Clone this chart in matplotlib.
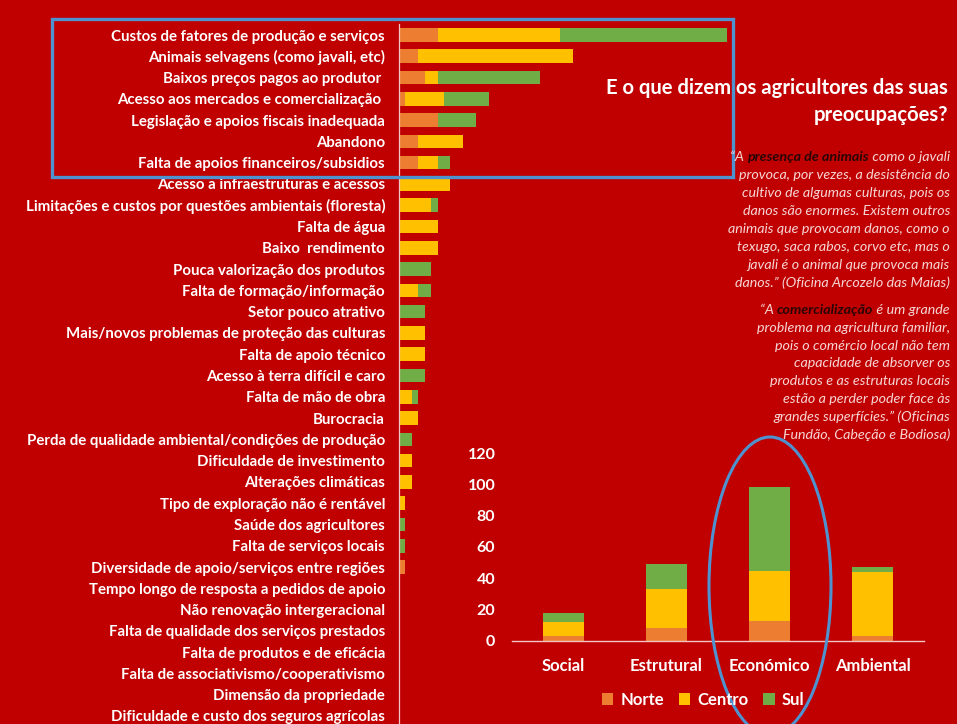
import matplotlib
matplotlib.use("Agg")
import matplotlib.pyplot as plt
import matplotlib.patches as mpatches
import numpy as np

# ---------------- data ----------------
problems = [
    "Custos de fatores de produção e serviços",
    "Animais selvagens (como javali, etc)",
    "Baixos preços pagos ao produtor ",
    "Acesso aos mercados e comercialização ",
    "Legislação e apoios fiscais inadequada",
    "Abandono",
    "Falta de apoios financeiros/subsidios",
    "Acesso a infraestruturas e acessos",
    "Limitações e custos por questões ambientais (floresta)",
    "Falta de água",
    "Baixo  rendimento",
    "Pouca valorização dos produtos",
    "Falta de formação/informação",
    "Setor pouco atrativo",
    "Mais/novos problemas de proteção das culturas",
    "Falta de apoio técnico",
    "Acesso à terra difícil e caro",
    "Falta de mão de obra",
    "Burocracia",
    "Perda de qualidade ambiental/condições de produção",
    "Dificuldade de investimento",
    "Alterações climáticas",
    "Tipo de exploração não é rentável",
    "Saúde dos agricultores",
    "Falta de serviços locais",
    "Diversidade de apoio/serviços entre regiões",
    "Tempo longo de resposta a pedidos de apoio",
    "Não renovação intergeracional",
    "Falta de qualidade dos serviços prestados",
    "Falta de produtos e de eficácia",
    "Falta de associativismo/cooperativismo",
    "Dimensão da propriedade",
    "Dificuldade e custo dos seguros agrícolas",
]
norte = [6, 3, 4, 1, 6, 3, 3, 0, 0, 0, 0, 0, 0, 0, 0, 0, 0, 0, 0, 0, 0, 0, 0, 0, 0, 1, 0, 0, 0, 0, 0, 0, 0]
centro = [19, 24, 2, 6, 0, 7, 3, 8, 5, 6, 6, 0, 3, 0, 4, 4, 0, 2, 3, 0, 2, 2, 1, 0, 0, 0, 0, 0, 0, 0, 0, 0, 0]
sul = [26, 0, 16, 7, 6, 0, 2, 0, 1, 0, 0, 5, 2, 4, 0, 0, 4, 1, 0, 2, 0, 0, 0, 1, 1, 0, 0, 0, 0, 0, 0, 0, 0]

dimensions = ["Social", "Estrutural", "Económico", "Ambiental"]
dim_norte = [3, 8, 13, 3]
dim_centro = [9, 25, 32, 41]
dim_sul = [6, 16, 53, 3]
dim_ticks = [0, 20, 40, 60, 80, 100, 120]
series_names = ["Norte", "Centro", "Sul"]

title_lines = ["E o que dizem os agricultores das suas", "preocupações?"]
quote1 = [("“A ", "presença de animais", " como o javali"),
          "provoca, por vezes, a desistência do",
          "cultivo de algumas culturas, pois os",
          "danos são enormes. Existem outros",
          "animais que provocam danos, como o",
          "texugo, saca rabos, corvo etc, mas o",
          "javali é o animal que provoca mais",
          "danos.” (Oficina Arcozelo das Maias)"]
quote2 = [("“A ", "comercialização", " é um grande"),
          "problema na agricultura familiar,",
          "pois o comércio local não tem",
          "capacidade de absorver os",
          "produtos e as estruturas locais",
          "estão a perder poder face às",
          "grandes superfícies.” (Oficinas",
          "Fundão, Cabeção e Bodiosa)"]

# ---------------- style ----------------
BG = "#C00000"
C_N, C_C, C_S = "#ED7D31", "#FFC000", "#70AD47"
BLUE = "#4E92CF"
QUOTE = "#F6D5D5"
FONT = ["Lato", "DejaVu Sans"]
plt.rcParams["font.family"] = FONT

W, H = 957, 724
fig = plt.figure(figsize=(W / 100, H / 100), dpi=100, facecolor=BG)

def fx(px):
    return px / W

def fy(py):
    return 1 - py / H

# ---------------- main horizontal bar chart ----------------
n = len(problems)
row = 21.28
unit = 6.43
xmax = 55
ax = fig.add_axes([fx(399), fy(35 - row / 2 + n * row), xmax * unit / W, n * row / H])
ax.set_facecolor("none")
y = np.arange(n)
nn = np.array(norte)
cc = np.array(centro)
ss = np.array(sul)
bh = 0.64
ax.barh(y, nn, height=bh, color=C_N)
ax.barh(y, cc, left=nn, height=bh, color=C_C)
ax.barh(y, ss, left=nn + cc, height=bh, color=C_S)
ax.set_xlim(0, xmax)
ax.set_ylim(n - 0.5, -0.5)
ax.set_yticks(y)
ax.set_yticklabels(problems, fontsize=10.8, fontweight="bold", color="white")
ax.tick_params(axis="y", length=0, pad=10)
ax.set_xticks([])
for s in ["top", "right", "bottom"]:
    ax.spines[s].set_visible(False)
ax.spines["left"].set_color("#F2C4C4")
ax.spines["left"].set_linewidth(0.9)

# ---------------- small stacked column chart ----------------
ax2 = fig.add_axes([fx(512), fy(641), 412 / W, 188 / H])
ax2.set_facecolor("none")
x = np.arange(len(dimensions))
dn = np.array(dim_norte)
dc = np.array(dim_centro)
ds = np.array(dim_sul)
bw = 0.4
ax2.bar(x, dn, width=bw, color=C_N, label=series_names[0])
ax2.bar(x, dc, bottom=dn, width=bw, color=C_C, label=series_names[1])
ax2.bar(x, ds, bottom=dn + dc, width=bw, color=C_S, label=series_names[2])
ax2.set_xlim(-0.5, len(dimensions) - 0.5)
ax2.set_ylim(0, 120)
ax2.set_yticks(dim_ticks)
ax2.set_yticklabels([str(t) for t in dim_ticks], fontsize=11.5, fontweight="bold", color="white")
ax2.set_xticks(x)
ax2.set_xticklabels(dimensions, fontsize=12, fontweight="bold", color="white")
ax2.tick_params(axis="y", length=0, pad=12)
ax2.tick_params(axis="x", length=0, pad=12)
for s in ["top", "right", "left"]:
    ax2.spines[s].set_visible(False)
ax2.spines["bottom"].set_color("#F2C4C4")
ax2.spines["bottom"].set_linewidth(1)
leg = fig.legend(loc="center", bbox_to_anchor=(fx(703), fy(700)), ncol=3, frameon=False,
                 handlelength=0.7, handleheight=0.7, handletextpad=0.4, columnspacing=0.9,
                 prop={"family": FONT, "size": 12, "weight": "bold"})
for t in leg.get_texts():
    t.set_color("white")

# ---------------- title and quotes ----------------
fig.text(fx(948), fy(88), title_lines[0], ha="right", va="center", fontsize=14.6,
         fontweight="bold", color="white")
fig.text(fx(948), fy(115), title_lines[1], ha="right", va="center", fontsize=14.6,
         fontweight="bold", color="white")

renderer = fig.canvas.get_renderer()

def draw_quote(lines, ytop, spacing, xr=950, size=10.3):
    for i, ln in enumerate(lines):
        yy = fy(ytop + i * spacing)
        if isinstance(ln, tuple):
            a, b, c = ln
            t3 = fig.text(fx(xr), yy, c, ha="right", va="center", fontsize=size,
                          style="italic", color=QUOTE)
            bb = t3.get_window_extent(renderer)
            t2 = fig.text(bb.x0 / W, yy, b, ha="right", va="center", fontsize=size,
                          style="italic", fontweight="bold", color="#2A0505")
            bb2 = t2.get_window_extent(renderer)
            fig.text(bb2.x0 / W, yy, a, ha="right", va="center", fontsize=size,
                     style="italic", color=QUOTE)
        else:
            fig.text(fx(xr), yy, ln, ha="right", va="center", fontsize=size,
                     style="italic", color=QUOTE)

draw_quote(quote1, 157, 18.0)
draw_quote(quote2, 310, 17.8)

# ---------------- highlight shapes ----------------
rect = mpatches.Rectangle((fx(52), fy(177)), (733 - 52) / W, (177 - 19) / H, fill=False,
                          edgecolor=BLUE, linewidth=2.4, transform=fig.transFigure)
fig.add_artist(rect)
ell = mpatches.Ellipse((fx(770), fy(586)), 122 / W, 298 / H, fill=False,
                       edgecolor=BLUE, linewidth=2.2, transform=fig.transFigure)
fig.add_artist(ell)

fig.savefig("out.png", dpi=100, facecolor=BG)
